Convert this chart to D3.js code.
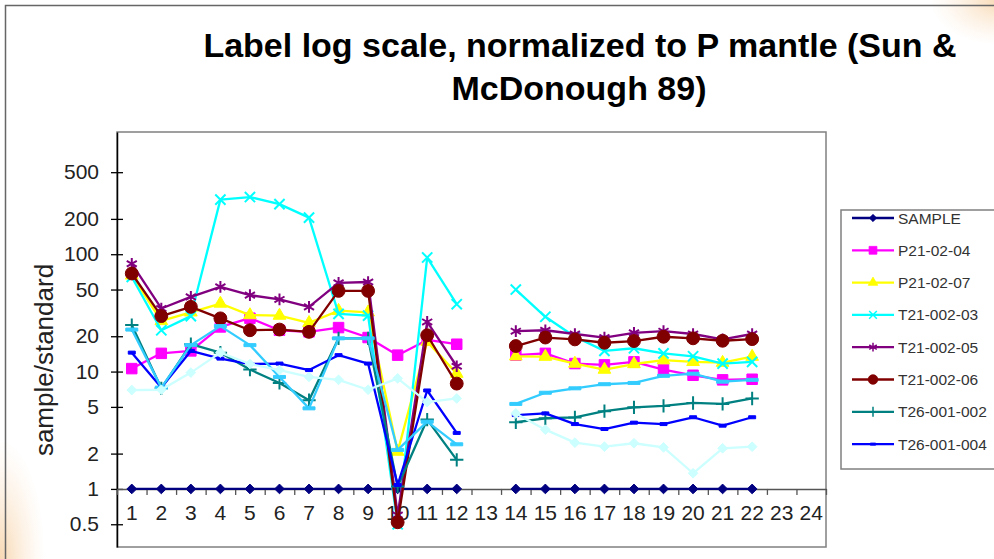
<!DOCTYPE html>
<html><head><meta charset="utf-8">
<script src="https://cdn.jsdelivr.net/npm/d3@7"></script>
<style>
body{margin:0;background:#fff;}
svg{display:block;font-family:Arial,"Liberation Sans",sans-serif;}
.tl{font-size:21px;fill:#222;}
</style></head>
<body>
<svg id="chart" width="994" height="559"></svg>
<script>
const categories = [1,2,3,4,5,6,7,8,9,10,11,12,13,14,15,16,17,18,19,20,21,22,23,24];
const yTickValues = [0.5,1,2,5,10,20,50,100,200,500];
const seriesNames = ["SAMPLE","P21-02-04","P21-02-07","T21-002-03","T21-002-05","T21-002-06","T26-001-002","T26-001-004","Series9","Series10"];
const sample    = [1,1,1,1,1,1,1,1,1,1,1,1,null,1,1,1,1,1,1,1,1,1,null,null];
const p2102_04  = [10.6,14.3,15,24,28.5,22.5,21.8,23.7,19.5,13.8,18.6,17.1,null,13.8,14.3,11.7,11.4,12.1,10.4,9.3,8.5,8.6,null,null];
const p2102_07  = [66,27,32,38,30.3,30,26,33,32,2.08,18,9.6,null,13.5,13.4,11.7,10.4,11.6,12.5,12.1,11.9,13.4,null,null];
const t21002_03 = [64,22.5,29.7,292,307,267,205,31,30,0.5,93.7,37.5,null,50,29.3,19.8,15,15.8,14.3,13.5,11.7,12.1,null,null];
const t21002_05 = [83,34.5,43.3,52.7,44.8,41.2,35.6,57,58,0.6,26.5,11.1,null,22.1,22.5,20.9,19.5,21.4,22.1,20.9,18.8,20.9,null,null];
const t21002_06 = [68.5,29.7,35.6,28.4,22.5,22.8,21.8,48.7,48.7,0.52,20.4,7.9,null,16.5,19.5,18.8,17.6,18.2,19.8,19.2,18.3,18.9,null,null];
const t26001_002= [24.9,7.2,17.1,14.5,10.4,8,5.7,19.2,19.2,1.05,3.9,1.77,null,3.7,4,4.07,4.6,4.96,5.1,5.4,5.3,5.9,null,null];
const t26001_004= [14.5,7.3,15,12.9,11.6,11.7,10.3,13.8,11.7,1.08,6.9,3,null,4.26,4.4,3.57,3.24,3.67,3.57,4.08,3.46,4.08,null,null];
const series9   = [22.8,7.3,16.8,24.4,16.8,9,4.86,19.2,19.2,2.15,3.74,2.4,null,5.3,6.6,7.2,7.8,8,9.2,9.6,8.2,8.5,null,null];
const series10  = [6.96,7,9.8,14.5,11.6,10.3,9,8.5,7,8.75,5.5,5.9,null,4.4,3.2,2.48,2.29,2.45,2.26,1.36,2.22,2.29,null,null];
const seriesValues = [sample,p2102_04,p2102_07,t21002_03,t21002_05,t21002_06,t26001_002,t26001_004,series9,series10];
const legendCount = 8;

const colors = ["#000080","#FF00FF","#FFFF00","#00FFFF","#800080","#800000","#008080","#0000FF","#33CCFF","#CCFFFF"];
const markers = ["diamond","square","triangle","times","asterisk","circle","plus","dash","bar","diamond"];

const svg = d3.select("#chart");
const defs = svg.append("defs");
function glow(id){
  const g = defs.append("radialGradient").attr("id",id);
  g.append("stop").attr("offset","0%").attr("stop-color","#f6cfa0").attr("stop-opacity",0.8);
  g.append("stop").attr("offset","100%").attr("stop-color","#fbe3c8").attr("stop-opacity",0);
}
glow("g1"); glow("g2");
svg.append("ellipse").attr("cx",1000).attr("cy",0).attr("rx",70).attr("ry",45).attr("fill","url(#g1)");
svg.append("ellipse").attr("cx",0).attr("cy",559).attr("rx",45).attr("ry",120).attr("fill","url(#g2)");

// outer frame
svg.append("path").attr("d","M5.5,559 V5.5 H994").attr("fill","none").attr("stroke","#666").attr("stroke-width",1.5);

const L = 117, R = 826, T = 132, B = 547;
const x = d3.scaleBand().domain(categories).range([L,R]);
const xb = d3.scaleLinear().domain([0,categories.length]).range([L,R]);
const y = d3.scaleLog().domain([0.32,1100]).range([B,T]);

// plot area border
svg.append("rect").attr("x",L).attr("y",T).attr("width",R-L).attr("height",B-T)
  .attr("fill","#fff").attr("stroke","#808080").attr("stroke-width",1.5);

// title
const title = svg.append("g").attr("font-weight","bold").attr("font-size",34).attr("fill","#000").attr("text-anchor","middle");
title.append("text").attr("x",580).attr("y",57).text("Label log scale, normalized to P mantle (Sun &");
title.append("text").attr("x",579).attr("y",100).text("McDonough 89)");

// y axis
const yAxis = svg.append("g").attr("transform",`translate(${L},0)`)
  .call(d3.axisLeft(y).tickValues(yTickValues).tickFormat(d => String(d)).tickSizeInner(6).tickSizeOuter(0).tickPadding(12));
yAxis.attr("font-size",null).attr("font-family",null);
yAxis.select(".domain").attr("stroke","#000").attr("stroke-width",1.5);
yAxis.selectAll(".tick line").attr("x1",6).attr("x2",-6).attr("stroke","#000").attr("stroke-width",1.3);
yAxis.selectAll(".tick text").attr("class","tl").attr("fill","#222");

// x axis (category boundary ticks)
const xTicks = svg.append("g").attr("transform",`translate(0,${y(1)})`)
  .call(d3.axisBottom(xb).tickValues(d3.range(0,categories.length+1)).tickFormat("").tickSizeInner(6).tickSizeOuter(0));
xTicks.select(".domain").attr("stroke","#555").attr("stroke-width",1.5);
xTicks.selectAll(".tick line").attr("stroke","#555").attr("stroke-width",1.3);
const xAxis = svg.append("g").attr("transform",`translate(0,${y(1)})`)
  .call(d3.axisBottom(x).tickSize(0).tickPadding(16));
xAxis.attr("font-size",null).attr("font-family",null);
xAxis.select(".domain").remove();
xAxis.selectAll(".tick text").attr("class","tl").attr("fill","#222");

// y title
svg.append("text").attr("transform","translate(53,360) rotate(-90)").attr("text-anchor","middle")
  .attr("font-size",26).attr("fill","#222").text("sample/standard");

// symbols
const dashType = {draw(ctx,size){ctx.rect(-3.5,-1.5,7,3);}};
const barType = {draw(ctx,size){ctx.rect(-6,-1.5,12,3);}};
function markerPath(m){
  switch(m){
    case "diamond": return d3.symbol(d3.symbolDiamond2, 60)();
    case "square": return d3.symbol(d3.symbolSquare, 110)();
    case "triangle": return d3.symbol(d3.symbolTriangle, 70)();
    case "times": return d3.symbol(d3.symbolTimes, 70)();
    case "asterisk": return d3.symbol(d3.symbolAsterisk, 95)();
    case "circle": return d3.symbol(d3.symbolCircle, 130)();
    case "plus": return d3.symbol(d3.symbolPlus, 60)();
    case "dash": return d3.symbol(dashType, 1)();
    case "bar": return d3.symbol(barType, 1)();
  }
}
const strokeMarkers = new Set(["times","asterisk","plus"]);

const line = d3.line().defined(d => d.v != null).x(d => x(d.c) + x.bandwidth()/2).y(d => y(d.v));
const plot = svg.append("g");
seriesValues.forEach((vals, i) => {
  const pts = vals.map((v, j) => ({c: categories[j], v}));
  const g = plot.append("g");
  g.append("path").attr("d", line(pts)).attr("fill","none").attr("stroke",colors[i]).attr("stroke-width",2.3).attr("stroke-linejoin","round");
  const mp = markerPath(markers[i]);
  g.selectAll("path.m").data(pts.filter(d => d.v != null)).join("path").attr("class","m")
    .attr("transform", d => `translate(${x(d.c)+x.bandwidth()/2},${y(d.v)})`)
    .attr("d", mp)
    .attr("fill", strokeMarkers.has(markers[i]) ? "none" : colors[i])
    .attr("stroke", colors[i]).attr("stroke-width", strokeMarkers.has(markers[i]) ? 2 : 1);
});

// legend
const lg = svg.append("g");
lg.append("rect").attr("x",841).attr("y",210).attr("width",170).attr("height",259).attr("fill","#fff").attr("stroke","#808080").attr("stroke-width",1.5);
for (let i = 0; i < legendCount; i++) {
  const ly = 218 + i*32.3;
  lg.append("line").attr("x1",852).attr("x2",894).attr("y1",ly).attr("y2",ly).attr("stroke",colors[i]).attr("stroke-width",2.3);
  const m = markers[i];
  lg.append("path").attr("transform",`translate(873,${ly}) scale(0.75)`).attr("d",markerPath(m))
    .attr("fill", strokeMarkers.has(m) ? "none" : colors[i]).attr("stroke",colors[i]).attr("stroke-width", strokeMarkers.has(m)?2:1);
  lg.append("text").attr("x",898).attr("y",ly).attr("dy","0.36em").attr("font-size",15.5).attr("fill","#333").text(seriesNames[i]);
}
</script>
</body></html>
